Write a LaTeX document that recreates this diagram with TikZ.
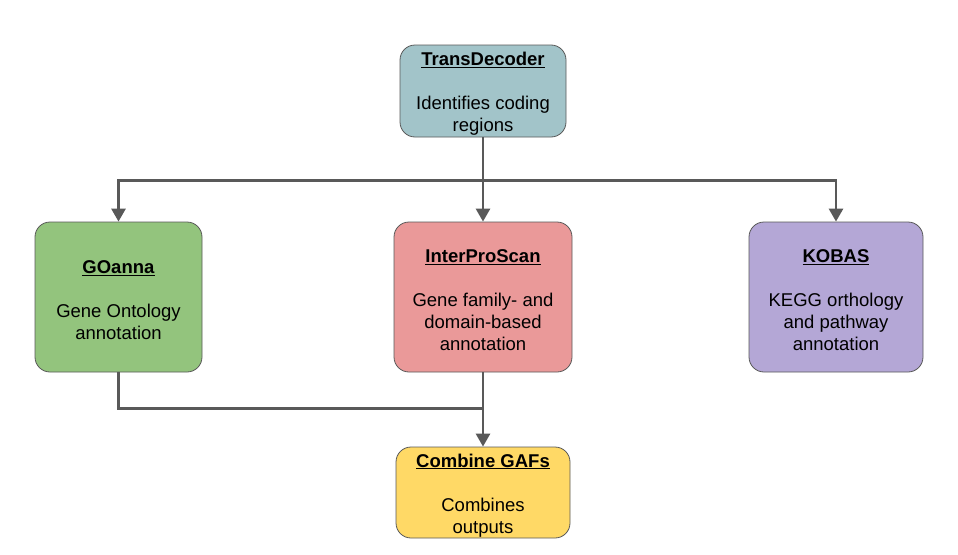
\documentclass[tikz,border=0pt]{standalone}
\usepackage{fontspec}
\setmainfont{Liberation Sans}
\usepackage{tikz}
\usetikzlibrary{arrows.meta, calc}
\definecolor{boxTeal}{HTML}{A2C4C9}
\definecolor{boxGreen}{HTML}{93C47D}
\definecolor{boxRed}{HTML}{EA9999}
\definecolor{boxPurple}{HTML}{B4A7D6}
\definecolor{boxYellow}{HTML}{FFD966}
\definecolor{lineGray}{HTML}{595959}
\newcommand{\ToolBox}[2]{\rule{0pt}{19pt}\underline{\textbf{#1}}\\[22pt]#2}
\tikzset{
	tool/.style={draw=lineGray, line width=0.8pt, rounded corners=15pt, inner sep=0pt,
		align=center, font=\fontsize{18.5}{22}\selectfont},
	flow/.style={draw=lineGray, line width=2.8pt},
	flowarrow/.style={flow, -{Triangle[length=13pt, width=14pt]}}
}

\begin{document}
\begin{tikzpicture}[x=1pt, y=-1pt]

  \useasboundingbox (0,0) rectangle (958,554);

  \node[tool, fill=boxTeal, minimum width=166pt, minimum height=92pt] (trans) at (483,91)
    {\ToolBox{TransDecoder}{Identifies coding\\regions}};
  \node[tool, fill=boxGreen, minimum width=167pt, minimum height=150pt] (goanna) at (118.5,297)
    {\ToolBox{GOanna}{Gene Ontology\\annotation}};
  \node[tool, fill=boxRed, minimum width=178pt, minimum height=150pt] (ipr) at (483,297)
    {\ToolBox{InterProScan}{Gene family- and\\domain-based\\annotation}};
  \node[tool, fill=boxPurple, minimum width=174pt, minimum height=150pt] (kobas) at (836,297)
    {\ToolBox{KOBAS}{KEGG orthology\\and pathway\\annotation}};
  \node[tool, fill=boxYellow, minimum width=174pt, minimum height=91pt] (gafs) at (483,492.5)
    {\ToolBox{Combine GAFs}{Combines\\outputs}};

  % fork below TransDecoder
  \coordinate (fork) at ($ (trans.south)+(0,43) $);
  \draw[flow] (trans.south) -- (fork);
  \draw[flowarrow] (fork) -| (goanna.north);
  \draw[flowarrow] (fork) -| (kobas.north);
  \draw[flowarrow] (fork) -- (ipr.north);

  % join above Combine GAFs
  \coordinate (join) at ($ (ipr.south)+(0,36) $);
  \draw[flow] (goanna.south) |- (join);
  \draw[flowarrow] (ipr.south) -- (gafs.north);

\end{tikzpicture}
\end{document}
